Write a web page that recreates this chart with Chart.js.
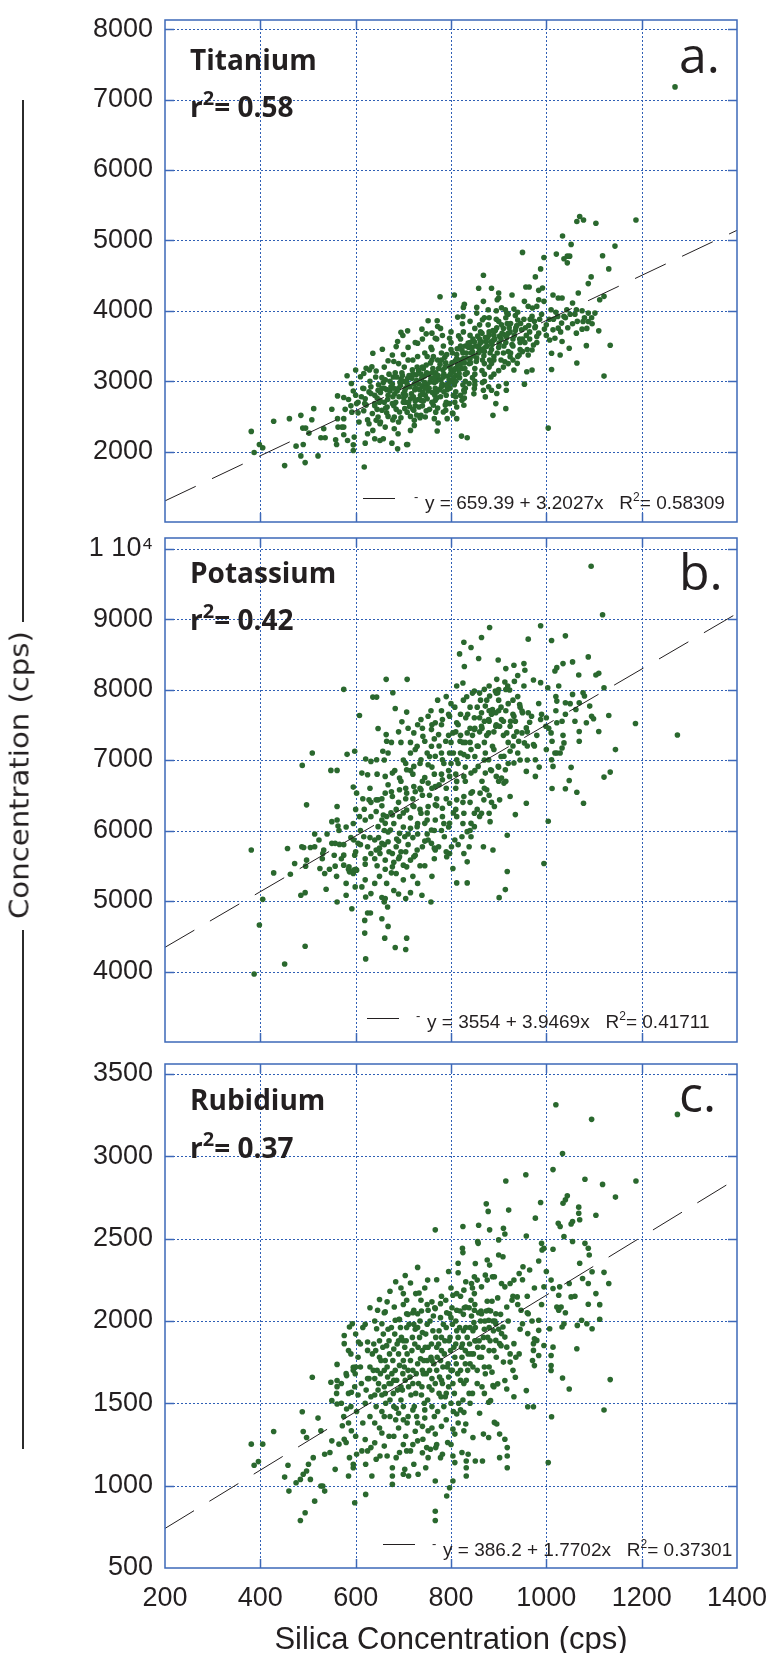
<html>
<head>
<script src="https://cdn.jsdelivr.net/npm/chart.js"></script>
<style>
  body { margin: 0; background: #fff; width: 782px; height: 1653px; position: relative; overflow: hidden; }
  canvas { position: absolute; left: 0; }
  .vline { position: absolute; left: 22px; width: 2px; background: #2b2b2b; }
  #ylab { position: absolute; left: 19px; top: 775px; transform: translate(-50%, -50%) rotate(-90deg) scaleX(1.2);
          font-family: "DejaVu Sans Condensed", "DejaVu Sans"; font-stretch: condensed; font-size: 27px;
          color: #231f20; white-space: nowrap; }
  #xlab { position: absolute; left: 165px; width: 572px; top: 1621px; text-align: center;
          font-family: "Liberation Sans", Arial; font-size: 31px; line-height: 36px; color: #231f20; }
</style>
<title></title>
</head>
<body>
<canvas id="ca" width="782" height="540" style="top:0px"></canvas>
<canvas id="cb" width="782" height="540" style="top:520px"></canvas>
<canvas id="cc" width="782" height="607" style="top:1046px"></canvas>

<div class="vline" style="top:100px;height:522px"></div>
<div id="ylab">Concentration (cps)</div>
<div class="vline" style="top:930px;height:519px"></div>
<div id="xlab">Silica Concentration (cps)</div>

<script>
"use strict";

// ---- data ----
const xTicks = [200, 400, 600, 800, 1000, 1200, 1400];
const xRange = [200, 1400];

const tiTicks = [2000, 3000, 4000, 5000, 6000, 7000, 8000];
const tiRange = [1000, 8130];
const tiFit = [659.39, 3.2027];

const kTicks = [4000, 5000, 6000, 7000, 8000, 9000, 10000];
const kTickLabels = ["4000", "5000", "6000", "7000", "8000", "9000", "1 10\u2074"];
const kRange = [3000, 10150];
const kFit = [3554, 3.9469];

const rbTicks = [500, 1000, 1500, 2000, 2500, 3000, 3500];
const rbRange = [500, 3560];
const rbFit = [386.2, 1.7702];

const titaniumPts = [
[1270,7180],[1070,5340],[1064,5267],[1078,5290],[1104,5243],[1188,5290],[1034,5062],[1052,4943],[1144,4919],[950,4829],
[995,4757],[1021,4805],[1037,4738],[1044,4776],[1049,4776],[1044,4681],[1118,4781],[1131,4595],[988,4595],[977,4481],
[1094,4481],[1088,4386],[868,4505],[858,4319],[885,4319],[900,4253],[928,4224],[957,4338],[964,4338],[984,4290],
[992,4324],[1014,4224],[1025,4181],[1033,4181],[1067,4253],[1112,4157],[1121,4205],[777,4200],[807,4224],[1134,3510],
[1121,3072],[1064,3258],[1084,3505],[1110,3715],[1011,3167],[954,2958],[1004,2334],[915,2610],[888,2515],[894,2682],
[822,2220],[834,2196],[771,2292],[618,1782],[451,1801],[494,1844],[485,1939],[521,1939],[387,1987],[381,2287],
[398,2101],[405,2054],[428,2430],[461,2468],[485,2515],[512,2610],[508,2453],[550,2601],[562,2791],[575,2768],
[582,3077],[591,2967],[533,2325],[489,2334],[495,2334],[502,2263],[475,2077],[490,2101],[527,2196],[536,2196],
[563,2348],[571,2348],[575,2348],[562,2468],[575,2468],[558,2168],[560,2101],[575,2239],[583,2158],[595,2096],
[595,2015],[597,2206],[620,2120],[625,2253],[640,2182],[651,2158],[658,2182],[676,2120],[688,2039],[707,2101],
[709,2101],[715,2301],[689,2253],[681,2325],[662,2348],[636,2301],[628,2396],[643,2444],[651,2396],[723,2372],
[723,2444],[737,2515],[746,2491],[765,2468],[773,2406],[792,2468],[784,2563],[803,2549],[812,2468],[823,2730],
[828,2848],[617,2896],[628,2848],[602,2682],[619,2682],[600,3158],[610,3063],[617,3110],[622,3182],[634,3206],
[636,3396],[629,3158],[643,3144],[656,3453],[668,3291],[677,3372],[685,3491],[688,3563],[695,3696],[699,3648],
[709,3715],[730,3539],[739,3739],[752,3858],[771,3858],[772,3777],[748,3672],[760,3682],[767,3610],[782,3648],
[797,3610],[816,3643],[814,3910],[825,3920],[824,3815],[826,4048],[828,4091],[854,4048],[854,3967],[866,3872],
[878,4015],[868,4134],[897,4157],[900,4181],[906,4043],[914,4015],[917,3967],[932,4024],[935,3934],[954,4134],
[962,4062],[971,4039],[980,4062],[984,4157],[995,4134],[1010,4015],[1024,3920],[1037,3920],[1043,4015],[1055,4110],
[1063,4015],[1075,4000],[1088,3967],[1102,3967],[1077,3848],[1088,3848],[1096,3815],[1063,3682],[1075,3739],[1055,3815],
[1032,3825],[1025,3753],[1014,3729],[1007,3586],[1018,3610],[1033,3563],[1048,3467],[1029,3372],[1011,3396],[977,3777],
[984,3682],[980,3634],[973,3515],[970,3444],[962,3372],[970,3158],[959,3134],[939,3253],[932,3158],[943,3372],
[950,3420],[924,3348],[913,3277],[916,2967],[916,2872],[900,2929],[896,2825],[879,2920],[885,2872],[868,2872],
[872,2777],[849,2896],[838,2967],[827,2872],[797,2682],[812,2634],[789,2587],[804,2539],[827,2658],[763,2658],
[767,2730],[737,2730],[733,2634],[722,2587],[703,2610],[692,2563],[681,2491],[677,2682],[666,2634],[655,2587],
[647,2491],[651,2730],[640,2682],[647,2872],[632,2825],
[640,2800],[648,2950],[655,3050],[660,2700],[665,2880],[672,3000],[678,2780],[683,3120],[690,2900],[695,3030],
[700,2820],[702,3200],[708,2960],[712,3080],[715,2750],[720,3300],[724,2880],[728,3010],[732,3150],[736,2800],
[740,2930],[744,3070],[748,3230],[752,2860],[756,2990],[760,3120],[763,3350],[767,2900],[770,3040],[774,3180],
[778,2780],[781,2960],[785,3100],[789,3260],[792,2880],[796,3020],[800,3160],[803,3400],[807,2950],[810,3080],
[814,3230],[818,3050],[822,3180],[826,3320],[830,3500],[834,3120],[838,3250],[842,3400],[846,3600],[850,3180],
[854,3330],[858,3480],[862,3700],[866,3300],[870,3420],[874,3560],[878,3800],[882,3400],[886,3520],[890,3650],
[895,3880],[900,3480],[905,3600],[910,3750],[915,3550],[920,3680],[925,3820],[930,3600],[935,3720],[940,3870],
[700,3380],[710,3480],[680,3280],[660,3200],[745,3400],[760,2700],[790,2700],[820,2800],[850,3000],[870,3100],
[880,3200],[640,2650],[620,2750],[615,2900],[630,3000],[600,2800],[590,2650],[605,2550],[625,2450],[645,2600],
[665,2550],[685,2600],[705,2700],[725,2650],[742,2720],[772,2620],[798,2900],[812,3380],[784,3500],[770,3600],
[758,3480],[740,3600],[725,3550],[850,3750],[826,3700],[800,3700],[778,3750],[890,3300],[920,3420],[945,3450],
[955,3550],[965,3700],[975,3850],[940,3980],[915,3900],[895,4000],[870,3900],[840,3850],[830,3000],[810,2780],
[755,2600],[735,2480],[715,2500],[695,2480],[678,2450],
[645,2760],[652,2840],[658,2980],[663,2620],[668,2800],[674,2920],[679,3060],[684,2700],[687,2860],[693,2980],
[697,3120],[701,2760],[705,2900],[709,3040],[713,2640],[717,2820],[719,3160],[723,2960],[727,3090],[731,2740],
[734,2880],[738,3030],[742,3180],[746,2800],[750,2950],[753,3100],[757,3260],[761,2840],[765,2980],[768,3120],
[772,3300],[776,2880],[779,3020],[783,3160],[787,3340],[791,2930],[794,3070],[798,3210],[802,3000],[805,3140],
[809,3290],[813,3460],[817,3110],[821,3250],[825,3400],[829,3180],[833,3330],[837,3480],[841,3260],[845,3420],
[849,3560],[853,3280],[857,3400],[861,3540],[865,3680],[869,3360],[873,3490],[877,3620],[881,3300],[885,3450],
[889,3580],[893,3720],[897,3400],[901,3540],[907,3680],[911,3500],[917,3620],[922,3760],[928,3520],[933,3650],
[938,3790],[944,3600],[948,3730],[953,3880],[958,3650],[963,3790],[650,2700],[660,2900],[670,3100],[680,2650],
[690,3250],[700,2700],[710,3300],[720,2600],[730,3350],[740,2650],[750,3350],[760,3450],[770,2760],[780,3400],
[790,2800],[800,3550],[810,2850],[820,3600],[830,2900],[840,3650],[850,2950],[860,3800],[870,3000],[880,3900],
[890,3100],[900,3850],[910,3200],[920,3950],[930,3300],[612,2780],[622,2660],[632,2920],[642,3060],[605,2700],
[595,2860],[585,2740],[578,2600],[592,2560],[607,2420],[617,2580],[635,2540],[652,2420],[668,2500],[690,2420],
[708,2560],[728,2520],[748,2580],[768,2560],[788,2660],[808,2700],[828,2760],[848,2820],[866,2980],[884,3060],
[900,3150],[920,3250],[940,3350],[960,3450],[980,3550],[1000,3650],[1000,3800],[990,3950],[970,3920],[1015,3880],
[1030,3700],[1050,3950],[1065,3850],[1085,3750],[1095,3900],
[655,2900],[662,3020],[667,2740],[672,2860],[677,2960],[682,2820],[686,3060],[691,2780],[694,2940],[698,3080],
[703,2860],[706,3000],[711,2700],[714,2920],[718,3040],[721,2780],[726,2900],[729,3200],[733,2960],[737,3100],
[741,2840],[745,2980],[749,3120],[754,2900],[758,3040],[762,3180],[766,2800],[769,3000],[773,3080],[777,3240],
[780,2920],[784,3060],[788,3200],[791,3380],[795,2960],[799,3100],[802,3260],[806,3040],[809,3180],[812,3320],
[816,3160],[820,3300],[823,3440],[828,3260],[832,3400],[836,3540],[840,3320],[844,3480],[848,3360],[852,3500],
[856,3640],[860,3420],[864,3560],[868,3460],[872,3620],[876,3500],[880,3660],[884,3560],[888,3720],[892,3600],
[896,3760],[902,3640],[906,3800],[912,3660],[918,3820],[924,3700],[936,3760],[946,3820],[956,3760],[966,3880],
[976,3760],[986,3880],[996,3740],[1006,3880],[1040,3900],[1060,3950],[1080,3900],[1045,3760],[1020,3980],[700,3000],
[720,3100],[740,3200],[760,3300],[780,3300],[800,3450],[820,3500],[840,3550],[860,3600],[880,3700],[750,2750],
[770,2850],[790,2950],[810,3000],[830,3100],[850,3100],[870,3250],[890,3350],[910,3400],[930,3500],[950,3600],
[680,2900],[705,2800],[725,2720],[745,2900],[765,3050],[785,2850],[805,2800],[825,2950],[845,3050],[865,3150],
[885,3250],[905,3300],[925,3400],[945,3550],[965,3600]
];

const potassiumPts = [
[1094,9750],[1118,9062],[881,8881],[988,8905],[1040,8762],[1011,8696],[962,8715],[864,8739],[827,8672],[842,8596],
[818,8506],[858,8440],[828,8326],[899,8420],[915,8297],[932,8345],[953,8368],[955,8273],[1018,8264],[1022,8311],
[1035,8368],[1055,8392],[1088,8463],[1068,8207],[1104,8207],[1110,8230],[1121,8026],[1131,7632],[1187,7518],[1275,7356],
[1145,7148],[1134,6829],[1121,6758],[1078,6388],[1064,6544],[1048,6710],[1040,6592],[1052,6896],[1012,6597],[1004,6131],
[995,5533],[958,6388],[935,6226],[918,5932],[918,5419],[914,5162],[901,5048],[888,5723],[868,5770],[834,5257],
[812,5257],[804,5461],[834,5556],[758,4986],[739,5081],[705,5034],[715,5119],[707,4473],[705,4312],[683,4340],
[661,4473],[668,4640],[655,4749],[621,4179],[619,4545],[619,4725],[625,4830],[631,4830],[660,4986],[667,4915],
[662,5034],[632,5105],[621,5058],[613,5200],[599,5200],[592,4891],[580,5081],[561,4986],[538,5167],[494,4359],
[451,4107],[387,3965],[398,4659],[405,5024],[428,5399],[463,5380],[485,5081],[494,5119],[381,5723],[457,5746],
[472,5533],[495,5495],[497,5580],[487,5770],[491,5760],[505,5760],[514,5770],[514,5950],[523,5865],[533,5723],
[531,5675],[525,5461],[535,5390],[557,5495],[550,5818],[557,5818],[566,5803],[575,5651],[575,5509],[586,5485],
[595,5390],[602,5438],[620,5523],[587,5414],[596,5438],[598,5651],[596,5865],[605,5818],[617,5912],[550,6126],
[561,6150],[563,6064],[561,6340],[497,6364],[488,6924],[509,7100],[548,6853],[561,6853],[575,8003],[582,7081],
[598,7124],[608,7632],[636,7893],[644,7893],[664,8145],[708,8145],[678,7955],[683,7732],[707,7680],[697,7542],
[647,7447],[664,7361],[665,7266],[621,7015],[632,6981],[644,7005],[657,7124],[668,7100],[595,6616],[602,6530],
[613,6815],[625,6791],[628,6435],[643,6435],[618,6302],[608,6197],[812,8050],[825,8093],[833,7898],[849,7979],
[870,8003],[881,7908],[896,8145],[913,8107],[923,7993],[919,8050],[933,8116],[898,7955],[893,7979],[953,8050],
[973,8136],[988,8098],[984,7803],[1003,8026],[1026,8050],[1022,7836],[1040,7812],[1055,7931],[1077,7955],[1080,7908],
[1069,7812],[1062,7718],[1091,7765],[1095,7622],[1099,7585],[1084,7528],[1110,7404],[1069,7404],[1069,7266],[1037,7243],
[1033,7171],[1018,7100],[1029,7100],[1011,7005],[1014,6910],[1022,7100],[1012,7266],[1010,7385],[1022,7528],[1033,7551],
[999,7480],[988,7575],[965,7537],[958,7456],[949,7385],[950,7670],[962,7670],[969,7622],[944,7789],[949,7694],
[932,7622],[935,7551],[954,7243],[973,7219],[977,7005],[958,6839],[977,6768],[942,7266],[932,6958],[924,7124],
[911,7053],[914,6863],[899,6910],[906,6744],[895,6768],[883,6863],[879,7005],[911,6673],[924,6483],[902,6435],
[891,6340],[875,6578],[861,6530],[869,6435],[880,6245],[882,6126],[864,6245],[849,6245],[849,6055],[842,5912],
[834,5984],[823,5912],[838,5770],[827,5675],[808,5865],[801,5770],[797,5675],[791,5628],[786,5912],[774,5770],
[767,5723],[759,5818],[752,5865],[740,5770],[729,5723],[722,5628],[715,5580],[707,5485],[700,5509],[692,5628],
[685,5390],[677,5675],[677,5485],[662,5580],[651,5675],[643,5723],[632,5675],[625,5770],[640,5865],[655,5818],
[668,5841],[685,5770],[692,5960],[703,5912],[715,6031],[729,6055],[745,6102],[759,6007],[767,6150],[782,6197],
[797,6102],[812,6197],[827,6245],[842,6102],[647,6055],[662,6102],[673,6007],[632,6197],[643,6269],[658,6221],
[677,6221],[692,6197],[707,6292],[722,6340],[737,6245],[752,6340],[767,6364],[782,6316],[797,6388],[812,6435],
[827,6483],[842,6530],[647,6435],[662,6530],[677,6483],[692,6578],[707,6530],[722,6625],[737,6578],[752,6673],
[767,6625],[782,6720],[797,6768],[812,6697],[827,6768],[842,6815],[857,6910],[872,6815],[662,6768],[677,6815],
[692,6744],[707,6863],[722,6910],[737,7005],[752,6934],[767,7053],[782,7005],[797,7100],[812,7005],[827,7077],
[842,7148],[857,7195],[872,7100],[887,7195],[715,7100],[729,7195],[745,7266],[759,7195],[722,7385],[741,7338],
[759,7432],[774,7361],[789,7266],[804,7385],[819,7266],[834,7385],[849,7432],[864,7480],[879,7385],[894,7480],
[782,7575],[797,7622],[812,7528],[831,7599],[849,7599],[864,7670],[879,7575],[894,7670],[906,7575],[737,7575],
[752,7622],[767,7528],[872,7765],[887,7718],[902,7480],[924,7480],[917,7385],[932,7338],
[640,5600],[648,5900],[655,6150],[662,5450],[668,5980],[674,6250],[680,5550],[686,5880],[690,6400],[695,5700],
[700,6050],[705,6600],[710,5800],[715,6180],[720,6450],[725,5650],[730,5950],[735,6300],[740,6700],[745,5850],
[750,6150],[755,6500],[760,6900],[765,6000],[770,6350],[775,6650],[780,7100],[785,6100],[790,6450],[795,6850],
[800,7250],[805,6250],[810,6600],[815,6950],[820,7350],[825,6400],[830,6700],[835,7050],[840,7450],[845,6550],
[850,6850],[855,7200],[860,7600],[865,6700],[870,7000],[875,7350],[880,7700],[885,6850],[890,7150],[895,7500],
[900,7850],[905,7050],[910,7350],[915,7700],[920,7250],[925,7550],[930,7850],[938,7400],[945,7750],[655,6350],
[668,6650],[682,6850],[695,7250],[710,7450],[725,7150],[740,7450],[758,7700],[772,7850],[790,7900],[808,7750],
[826,7850],[845,7950],[862,7850],[650,5350],[665,5250],[680,5150],[700,5300],[720,5350],[745,5500],[765,5600],
[790,5700],[815,5800],[840,6000],[860,6200],[880,6500],[900,6700],[920,6950],[940,7100],[960,7200],[980,7350],
[1000,7600],[1020,7700],[1040,7650],[1060,7550],[1000,7150],[985,6900],[960,7000],[620,5600],[630,5900],[610,6000],
[600,5700],[590,5900],[580,6050],[570,5600],[600,6300],[615,6450],[630,6600],[645,6800],[660,7000],[675,7250],
[690,7400],[705,6950],[720,6800],[735,6600],[750,7100],[765,7300],[780,7500],[795,7650],[810,7400],[830,7250],
[850,7450],[870,7550],[540,5950],[530,5600],[560,5350],[580,5250],[600,5450],[620,5300],
[650,5750],[660,6000],[670,5700],[680,6100],[690,5850],[700,6250],[710,5950],[720,6350],[730,6100],[740,6500],
[750,6250],[760,6600],[770,6450],[780,6800],[790,6600],[800,6950],[810,6800],[820,7100],[830,6900],[840,7250],
[850,7050],[860,7400],[870,7250],[880,7550],[890,7400],[900,7700],[910,7550],[920,7800],[930,7650],[940,7900],
[655,6450],[665,6200],[675,6550],[685,6300],[695,6700],[705,6450],[715,6850],[725,6550],[735,6950],[745,6750],
[755,7050],[765,6800],[775,7200],[785,6950],[795,7350],[805,7100],[815,7500],[825,7250],[835,7650],[845,7350],
[855,7750],[865,7450],[875,7850],[885,7650],[895,7950],[905,7750],[915,8000],[645,5500],[660,5800],[675,5400],
[690,5600],[705,5700],[720,5900],[735,5500],[750,5950],[765,5750],[780,6000],[795,6050],[810,6300],[825,6100],
[840,6400],[855,6300],[870,6600],[885,6400],[900,6900],[915,6700],[930,7200],[945,7000],[960,7400],[975,7200],
[990,7650],[1005,7450],[1020,7900],[1035,7350],[1050,7800],[610,5800],[620,6150],[632,6400],[595,6100],[585,5450],
[575,5800],[565,6000],[555,5650],[545,5450],[640,5250],[655,5050],[690,5100],[730,5250],[760,5350],[700,7000],
[715,7250],[730,7500],[760,7500],[780,7700],[800,7800],[820,7650],[840,7750],[860,7950],[880,8050],[900,8000],
[940,8200]
];

const rubidiumPts = [
[1020,3313],[1095,3224],[1275,3254],[1034,3016],[1014,2919],[957,2888],[915,2850],[1081,2860],[1118,2829],[1188,2850],
[1145,2752],[1040,2736],[1035,2715],[1044,2760],[988,2719],[1068,2691],[1068,2654],[1070,2614],[1104,2642],[1055,2604],
[1052,2589],[1025,2593],[1029,2573],[977,2624],[921,2673],[874,2711],[878,2665],[858,2581],[881,2553],[910,2563],
[913,2528],[900,2492],[958,2516],[767,2553],[825,2573],[824,2441],[825,2415],[856,2482],[857,2471],[1037,2512],
[1055,2482],[1081,2471],[1088,2441],[1014,2435],[990,2471],[995,2441],[991,2431],[984,2364],[965,2309],[951,2329],
[943,2288],[932,2248],[924,2227],[906,2227],[913,2207],[900,2400],[909,2390],[876,2370],[881,2339],[851,2349],
[849,2268],[855,2248],[872,2278],[887,2268],[815,2293],[831,2238],[843,2227],[730,2325],[751,2248],[704,2276],
[684,2238],[1076,2258],[1088,2227],[1096,2299],[1121,2295],[1131,2227],[1104,2166],[1088,2101],[1112,2099],[1048,2227],
[1052,2146],[1028,2207],[1026,2156],[1010,2248],[1014,2197],[995,2207],[1022,2085],[1026,2065],[1031,2085],[1065,1973],
[1085,1983],[1096,1953],[1112,2010],[1074,2004],[1033,1963],[1037,1983],[1007,1953],[995,1851],[1014,1841],[1064,1831],
[1010,1790],[1010,1729],[1010,1699],[1034,1654],[1048,1587],[1134,1644],[1121,1459],[1011,1418],[1004,1140],[980,1882],
[973,1862],[961,1923],[975,1892],[984,2004],[984,1943],[950,1983],[962,2044],[973,1821],[984,1790],[971,1760],
[975,1729],[943,1800],[936,1780],[924,1800],[924,1750],[932,1862],[917,1841],[935,1658],[958,1577],[961,1479],
[973,1479],[932,1540],[913,1638],[917,1587],[898,1618],[888,1607],[883,1516],[879,1506],[886,1689],[872,1679],
[906,1923],[913,1902],[894,1882],[902,1862],[891,1384],[896,1374],[902,1313],[913,1282],[918,1231],[918,1180],
[918,1109],[902,1170],[879,1292],[868,1313],[846,1292],[866,1150],[851,1150],[836,1191],[832,1150],[832,1109],
[832,1059],[804,1180],[808,1140],[804,1028],[797,987],[791,937],[823,1201],[827,1333],[831,1374],[812,1435],
[827,1445],[804,1343],[808,1313],[793,1262],[782,1191],[778,1170],[767,1028],[767,845],[767,788],[747,1109],
[752,1170],[768,1231],[757,1221],[749,1231],[767,1313],[752,1333],[741,1282],[730,1272],[722,1130],[731,1069],
[711,1059],[700,1069],[703,1099],[715,1211],[707,1211],[692,1201],[685,1170],[677,1109],[677,1059],[677,1008],
[666,1180],[651,1180],[643,1160],[634,1059],[621,947],[621,1130],[625,1211],[632,1231],[613,1211],[602,1191],
[595,1130],[595,1109],[585,1059],[598,896],[587,1170],[591,1333],[576,1282],[572,1364],[580,1262],[557,1099],
[550,1272],[565,1252],[535,1191],[546,1201],[511,1170],[501,1130],[497,1089],[490,1069],[484,1038],[505,1038],
[527,998],[535,967],[531,998],[514,906],[494,835],[484,788],[475,1018],[460,967],[451,1052],[458,1124],
[387,1124],[396,1146],[381,1252],[405,1252],[428,1329],[488,1449],[490,1329],[497,1292],[521,1410],[527,1333],
[509,1658],[548,1628],[561,1638],[561,1601],[550,1516],[561,1496],[561,1736],[576,1912],[576,1862],[587,1963],
[593,1983],[581,1668],[581,1465],[595,1719],[599,1679],[591,1567],[606,1872],[625,1872],[625,1821],[646,2065],
[662,2055],[666,2116],[681,2085],[644,1953],[655,1983],[683,2004],[692,2008],[707,2044],[700,2166],[707,2126],
[726,2166],[733,2170],[737,2126],[722,2065],[730,2044],[760,2116],[752,2065],[767,2075],[778,2105],[789,2126],
[804,2156],[812,2166],[827,2187],[842,2126],[849,2166],[864,2207],[876,2248],[891,2268],[797,2044],[812,2065],
[831,2085],[849,2065],[864,2044],[879,2065],[894,2044],[879,2004],[894,1983],[909,1963],[917,2085],[928,2126],
[939,2146],[947,2065],
[620,1500],[628,1650],[635,1800],[640,1550],[645,1700],[650,1880],[655,1450],[660,1600],[662,1760],[668,1950],
[672,1520],[676,1680],[680,1830],[684,1400],[688,1580],[692,1730],[696,1900],[700,1480],[704,1640],[708,1800],
[712,1980],[716,1550],[720,1700],[724,1860],[728,1420],[732,1620],[736,1770],[740,1930],[744,1500],[748,1680],
[752,1840],[756,2000],[760,1580],[764,1740],[768,1900],[772,1450],[776,1660],[780,1820],[784,1980],[788,1540],
[792,1720],[796,1880],[800,2020],[804,1620],[808,1780],[812,1940],[816,1500],[820,1700],[824,1860],[828,2080],
[832,1640],[836,1800],[840,1960],[846,1720],[852,1880],[858,2050],[864,1780],[870,1950],[876,2120],[882,1880],
[888,2000],[690,1350],[705,1300],[670,1300],[650,1350],[730,1380],[760,1350],[790,1400],[640,2000],[660,2050],
[700,2100],[720,2050],[750,2100],[780,2150],[800,2200],[820,2150],[845,2200],[630,1420],[615,1380],[605,1550],
[610,1720],[598,1600],[590,1480],[602,1450],[685,1470],[710,1420],[745,1410],[775,1560],[795,1600],[815,1380],
[838,1560],[855,1620],[870,1560],[880,1720],[895,1780],[905,1850],[760,1650],[725,1950],[695,1600],[665,1850],
[655,1550],[738,1550],[778,1760],[803,1700],[826,1940],[848,1990],
[622,1580],[630,1720],[638,1860],[643,1480],[648,1620],[653,1760],[658,1920],[663,1500],[667,1660],[671,1800],
[675,1960],[679,1560],[683,1700],[687,1860],[691,2010],[695,1520],[699,1680],[703,1840],[707,1960],[711,1600],
[715,1760],[719,1900],[723,1480],[727,1680],[731,1840],[735,2000],[739,1600],[743,1760],[747,1920],[751,1520],
[755,1700],[759,1860],[763,2030],[767,1620],[771,1780],[775,1940],[779,1540],[783,1720],[787,1880],[791,2050],
[795,1660],[799,1820],[803,1980],[807,1560],[811,1740],[815,1900],[819,2060],[823,1780],[827,1620],[831,1960],
[835,1700],[839,1860],[843,2030],[847,1800],[851,1960],[855,1700],[859,1880],[863,2060],[867,1840],[871,2000],
[877,1900],[883,2060],[889,1940],[640,1380],[655,1320],[672,1420],[690,1440],[708,1380],[725,1330],[745,1460],
[765,1420],[785,1480],[805,1450],[825,1520],[845,1560],[865,1600],[612,1620],[605,1780],[595,1700],[585,1560],
[575,1420],[570,1620],[585,1820],[600,1920],[615,1960],[630,2080],[650,2130],[672,2180],[695,2200],[715,2230],
[745,2200],[770,2250],[795,2300],[815,2350],[640,1650],[660,1700],[680,1640],[700,1760],[720,1620],[740,1700],
[760,1760],[780,1640],[800,1700],[820,1640],[840,1740],[860,1780],[880,1820],[900,1950],[920,2000],[940,2100],
[960,2150],[975,2200],[945,1950],[930,1700],[910,1750],[890,1600],[700,1880],[740,1820],[780,1900],
[625,1650],[632,1540],[637,1700],[642,1820],[647,1580],[652,1680],[657,1840],[662,1560],[666,1720],[670,1880],
[674,1620],[678,1760],[682,1920],[686,1640],[690,1800],[694,1960],[698,1580],[702,1720],[706,1880],[710,2040],
[714,1660],[718,1820],[722,1980],[726,1560],[730,1740],[734,1900],[738,2060],[742,1680],[746,1840],[750,1980],
[754,1600],[758,1780],[762,1940],[766,2080],[770,1700],[774,1860],[778,2020],[782,1620],[786,1800],[790,1960],
[794,1740],[798,1900],[802,2080],[806,1840],[810,2000],[814,1680],[818,1960],[822,1840],[826,2040],[830,1740],
[834,1900],[838,2080],[842,1800],[846,1940],[850,2100],[856,1840],[862,2000],[868,1900],[874,2060],[880,1960],
[886,2120],[892,2000],[898,2140],[904,2040],[660,1420],[680,1480],[700,1400],[720,1460],[740,1360],[760,1480],
[780,1360],[800,1500],[820,1460],[840,1500],[860,1440],[650,1780],[670,1620],[690,1880],[710,1700],[730,1960],
[750,1760],[770,1840],[790,1560],[810,1860],[830,1820],[850,1880],[870,1720],[890,1820],[610,1860],[620,1980],
[600,1720],[590,1800],[580,1680],[570,1500],[560,1560],[585,1380],[600,1300],[620,1280],[640,1260],[660,1240],
[680,1300],[700,1250],[720,1250],[740,1200],[770,1250],[800,1250],[930,2150],[950,2250],[960,2050],[970,2000],
[990,2100],[1000,2300],[1040,2050],[1060,2150],[1070,2350],[1090,2400]
];

// ---- drawing ----
Chart.defaults.font.family = '"Liberation Sans", Arial, sans-serif';
Chart.defaults.color = "#231f20";

const INK = "#231f20";
const GRID = "#2f5fb5";
const FRAME = "#3d68b8";

function hline(ctx, x1, y1, x2, y2) {
    ctx.beginPath();
    ctx.moveTo(x1, y1);
    ctx.lineTo(x2, y2);
    ctx.stroke();
}

const framePlugin = {
    id: "frame",
    beforeDatasetsDraw(chart) {
        const { ctx, chartArea: a, scales: { x, y } } = chart;
        const yt = chart.options.plugins.frame.yTicks;
        ctx.save();
        ctx.strokeStyle = GRID;
        ctx.lineWidth = 1;
        ctx.setLineDash([2, 2]);
        for (const v of xTicks) {
            if (v <= x.min || v >= x.max) continue;
            const p = Math.round(x.getPixelForValue(v)) + 0.5;
            hline(ctx, p, a.top, p, a.bottom);
        }
        for (const v of yt) {
            if (v <= y.min || v >= y.max) continue;
            const p = Math.round(y.getPixelForValue(v)) + 0.5;
            hline(ctx, a.left, p, a.right, p);
        }
        ctx.restore();
    },
    afterDatasetsDraw(chart) {
        const { ctx, chartArea: a, scales: { x, y } } = chart;
        const o = chart.options.plugins.frame;
        ctx.save();
        ctx.strokeStyle = FRAME;
        ctx.lineWidth = 1.5;
        ctx.setLineDash([]);
        ctx.strokeRect(a.left, a.top, a.right - a.left, a.bottom - a.top);
        const t = 9;
        for (const v of xTicks) {
            if (v <= x.min || v >= x.max) continue;
            const p = Math.round(x.getPixelForValue(v)) + 0.5;
            hline(ctx, p, a.top, p, a.top + t);
            hline(ctx, p, a.bottom, p, a.bottom - t);
        }
        for (const v of o.yTicks) {
            if (v <= y.min || v >= y.max) continue;
            const p = Math.round(y.getPixelForValue(v)) + 0.5;
            hline(ctx, a.left, p, a.left + t, p);
            hline(ctx, a.right, p, a.right - t, p);
        }

        // panel notes
        const n = o.notes;
        ctx.fillStyle = INK;
        ctx.textAlign = "left";
        ctx.textBaseline = "alphabetic";
        const tx = a.left + 25;
        ctx.font = 'bold 28px "Open Sans"';
        ctx.fillText(n.title, tx, a.top + n.dy[0]);
        let cx = tx, by = a.top + n.dy[1];
        ctx.fillText("r", cx, by);
        cx += ctx.measureText("r").width;
        ctx.font = 'bold 20px "Open Sans"';
        ctx.fillText("2", cx, by - 12);
        cx += ctx.measureText("2").width;
        ctx.font = 'bold 28px "Open Sans"';
        ctx.fillText("= " + n.r2, cx, by);

        ctx.font = '50px "Open Sans"';
        ctx.fillText(n.letter, a.right - 58, a.top + n.dy[2]);

        // fit legend
        ctx.strokeStyle = INK;
        ctx.lineWidth = 1;
        const lx = a.left + n.lx;
        const ly = Math.round(a.bottom - 24) + 0.5;
        hline(ctx, lx, ly, lx + 32, ly);
        const eb = a.bottom - n.eb;
        let ex = lx + n.ex;
        ctx.font = '13px "Liberation Sans"';
        ctx.fillText("-", ex - 11, eb - 8);
        ctx.font = '19px "Liberation Sans"';
        const s1 = "y = " + n.eq + "   R";
        ctx.fillText(s1, ex, eb);
        ex += ctx.measureText(s1).width;
        ctx.font = '12px "Liberation Sans"';
        ctx.fillText("2", ex, eb - 8);
        ex += ctx.measureText("2").width;
        ctx.font = '19px "Liberation Sans"';
        ctx.fillText("= " + n.R2, ex, eb);
        ctx.restore();
    }
};

// tick marks drawn invisible: they only space the labels off the frame
function hiddenTicks(len) {
    return { display: true, drawOnChartArea: false, drawTicks: true, tickLength: len, tickColor: "rgba(0,0,0,0)" };
}

function makePanel(id, pts, fit, range, ticks, labels, notes, showX, padTop, padBottom) {
    const fitLine = xRange.map(v => ({ x: v, y: fit[0] + fit[1] * v }));
    return new Chart(document.getElementById(id), {
        type: "scatter",
        data: {
            datasets: [
                {
                    type: "line",
                    data: fitLine,
                    borderColor: INK,
                    borderWidth: 1,
                    borderDash: [34, 18],
                    pointRadius: 0,
                    fill: false
                },
                {
                    data: pts.map(p => ({ x: p[0], y: p[1] })),
                    pointRadius: 2.8,
                    pointBackgroundColor: "#2a682e",
                    pointBorderWidth: 0,
                    showLine: false
                }
            ]
        },
        options: {
            responsive: false,
            animation: false,
            events: [],
            devicePixelRatio: 1,
            layout: { padding: { top: padTop, bottom: padBottom, left: 0, right: 45 } },
            plugins: {
                legend: { display: false },
                tooltip: { enabled: false },
                frame: { yTicks: ticks, notes: notes }
            },
            scales: {
                x: {
                    type: "linear",
                    min: xRange[0],
                    max: xRange[1],
                    display: showX,
                    afterBuildTicks: s => { s.ticks = xTicks.map(v => ({ value: v })); },
                    afterFit: s => { s.height = showX ? 85 : 0; },
                    grid: hiddenTicks(14),
                    border: { display: false },
                    ticks: { font: { size: 27 }, padding: 0, color: INK, maxRotation: 0,
                             callback: v => String(v) }
                },
                y: {
                    type: "linear",
                    min: range[0],
                    max: range[1],
                    afterBuildTicks: s => { s.ticks = ticks.map(v => ({ value: v })); },
                    afterFit: s => { s.width = 165; },
                    grid: hiddenTicks(12),
                    border: { display: false },
                    ticks: {
                        font: { size: 27 },
                        padding: 0,
                        color: INK,
                        callback: v => labels ? labels[ticks.indexOf(v)] : String(v)
                    }
                }
            }
        },
        plugins: [framePlugin]
    });
}

makePanel("ca", titaniumPts, tiFit, tiRange, tiTicks, null,
    { title: "Titanium", r2: "0.58", letter: "a.", dy: [50, 97, 53],
      eq: "659.39 + 3.2027x", R2: "0.58309", lx: 198, ex: 62, eb: 13 },
    false, 20, 18);

makePanel("cb", potassiumPts, kFit, kRange, kTicks, kTickLabels,
    { title: "Potassium", r2: "0.42", letter: "b.", dy: [45, 92, 52],
      eq: "3554 + 3.9469x", R2: "0.41711", lx: 202, ex: 60, eb: 14 },
    false, 18, 18);

makePanel("cc", rubidiumPts, rbFit, rbRange, rbTicks, null,
    { title: "Rubidium", r2: "0.37", letter: "c.", dy: [46, 94, 48],
      eq: "386.2 + 1.7702x", R2: "0.37301", lx: 218, ex: 60, eb: 12 },
    true, 18, 0);
</script>
</body>
</html>
